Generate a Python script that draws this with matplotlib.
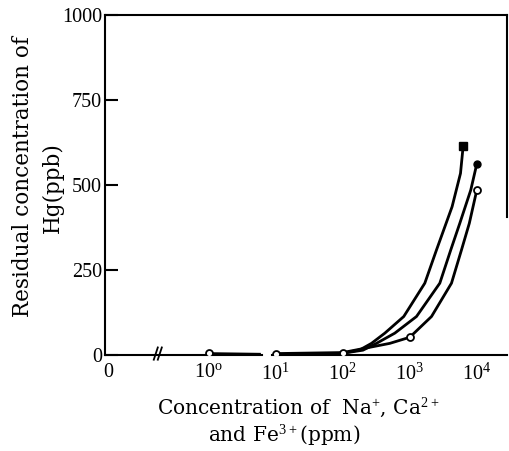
import numpy as np
import matplotlib
matplotlib.use("Agg")
import matplotlib.pyplot as plt
from matplotlib.transforms import blended_transform_factory

plt.rcParams['font.family'] = ['Liberation Serif', 'DejaVu Serif']
plt.rcParams['mathtext.fontset'] = 'custom'
plt.rcParams['mathtext.rm'] = 'Liberation Serif'

# ---- data (concentration in ppm, residual Hg in ppb) ----
x_tick_values = [0, 1, 10, 100, 1000, 10000]
x_tick_labels = ['0', r'$\mathregular{10^{o}}$', r'$\mathregular{10^{1}}$',
                 r'$\mathregular{10^{2}}$', r'$\mathregular{10^{3}}$', r'$\mathregular{10^{4}}$']
y_ticks = [0, 250, 500, 750, 1000]

open_pts_conc = [1, 10, 100, 1000, 10000]
open_pts_hg = [5, 4, 7, 52, 485]

open_low_conc = [1, 6]
open_low_hg = [4, 2]

open_curve_conc = [10, 100, 503, 1000, 2109, 4190, 5912, 7730, 10000]
open_curve_hg = [4, 7, 34, 52, 113, 211, 309, 387, 485]

mid_curve_conc = [100, 200, 318, 597, 1259, 2805, 4090, 5572, 8128, 10000]
mid_curve_hg = [5, 14, 34, 64, 113, 211, 309, 387, 485, 562]

sq_curve_conc = [100, 180, 268, 424, 813, 1675, 2505, 4279, 5710, 6250]
sq_curve_hg = [5, 15, 34, 64, 113, 211, 309, 436, 534, 613]

ZERO_POS = -1.5


def pos(c):
    c = np.asarray(c, dtype=float)
    out = np.full(c.shape, ZERO_POS)
    m = c > 0
    out[m] = np.log10(c[m])
    return out


fig = plt.figure(figsize=(5.09, 4.51), dpi=100)
ax = fig.add_axes([0.206, 0.213, 0.790, 0.754])

lw = 2.0
ax.plot(pos(open_low_conc), open_low_hg, color='black', lw=lw, solid_capstyle='butt')
ax.plot(pos(open_curve_conc), open_curve_hg, color='black', lw=lw, solid_joinstyle='round')
ax.plot(pos(mid_curve_conc), mid_curve_hg, color='black', lw=lw, solid_joinstyle='round')
ax.plot(pos(sq_curve_conc), sq_curve_hg, color='black', lw=lw, solid_joinstyle='round')

ax.plot(pos(open_pts_conc), open_pts_hg, 'o', ms=5, mfc='white', mec='black', mew=1.3, zorder=5)
ax.plot(pos([mid_curve_conc[-1]]), [mid_curve_hg[-1]], 'o', ms=5, color='black', zorder=5)
ax.plot(pos([sq_curve_conc[-1]]), [sq_curve_hg[-1]], 's', ms=6, color='black', zorder=5)

ax.set_xlim(-1.55, 4.45)
ax.set_ylim(0, 1000)

ax.set_xticks(pos(x_tick_values))
ax.set_xticklabels(x_tick_labels, fontsize=14.5)
ax.tick_params(axis='x', length=0, pad=6)
ax.set_xticks(pos([1000, 10000]), minor=True)
ax.tick_params(axis='x', which='minor', direction='in', length=8, width=1.5)

ax.set_yticks(y_ticks)
ax.set_yticklabels([str(v) for v in y_ticks], fontsize=14.5)
ax.tick_params(axis='y', direction='in', length=9, width=1.5, pad=2)

for s in ['left', 'top', 'right']:
    ax.spines[s].set_linewidth(1.5)
ax.spines['right'].set_bounds(406, 1000)
ax.spines['bottom'].set_visible(False)

# broken bottom axis line
tr = blended_transform_factory(ax.transData, ax.transAxes)
ax.plot([-1.55, 0.79], [0, 0], color='black', lw=1.5, transform=tr, clip_on=False)
ax.plot([0.95, 4.45], [0, 0], color='black', lw=1.5, transform=tr, clip_on=False)
# break marks
for dx in (-0.06, 0.0):
    ax.plot([-0.76 + dx, -0.70 + dx], [-0.014, 0.022], color='black', lw=1.3,
            transform=tr, clip_on=False)

lab = dict(fontsize=15.5, family=['DejaVu Serif'])
fig.text(0.045, 0.6075, 'Residual concentration of', rotation=90,
         ha='center', va='center', **lab)
fig.text(0.103, 0.585, 'Hg(ppb)', rotation=90, ha='center', va='center', **lab)

xlab = dict(fontsize=14.5, family=['DejaVu Serif'])
fig.text(0.585, 0.096, r'Concentration of  Na$^{+}$, Ca$^{2+}$',
         ha='center', va='center', **xlab)
fig.text(0.558, 0.036, r'and Fe$^{3+}$(ppm)', ha='center', va='center', **xlab)

fig.savefig('out.png', dpi=100)
